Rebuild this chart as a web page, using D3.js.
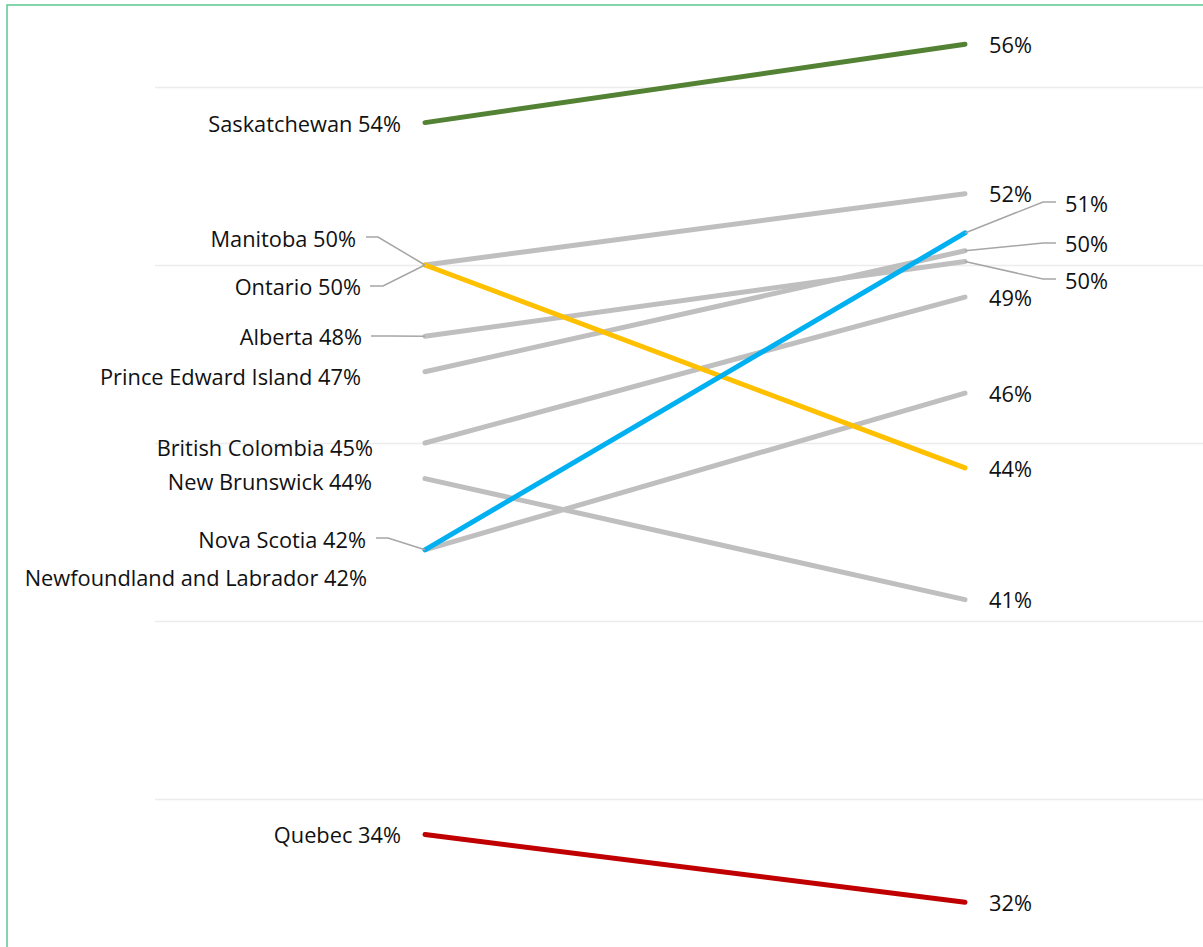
<!DOCTYPE html>
<html>
<head>
<meta charset="utf-8">
<script src="https://cdn.jsdelivr.net/npm/d3@7"></script>
<style>
  html, body { margin: 0; padding: 0; background: #fff; }
  svg { display: block; }
  text { font-family: "Open Sans", "Noto Sans", sans-serif; font-size: 21.8px; fill: #111; }
</style>
</head>
<body>
<svg id="chart" width="1203" height="947"></svg>
<script>
// ---- data ----
const provinces = ["Saskatchewan", "Manitoba", "Ontario", "Alberta", "Prince Edward Island",
  "British Colombia", "New Brunswick", "Nova Scotia", "Newfoundland and Labrador", "Quebec"];
const startValues = [54.0, 50.0, 50.0, 48.0, 47.0, 45.0, 44.0, 42.0, 42.0, 34.0];
const endValues   = [56.2, 52.0, 44.3, 50.1, 50.4, 49.1, 40.6, 50.9, 46.4, 32.1];
const lineColors  = ["#548235", "#bfbfbf", "#ffc000", "#bfbfbf", "#bfbfbf",
  "#bfbfbf", "#bfbfbf", "#00b0f0", "#bfbfbf", "#c00000"];
const gridValues = [35, 40, 45, 50, 55];

// ---- layout (label placement, pixels) ----
const leftLabelPos = {
  "Saskatchewan": {x: 401, y: 124},
  "Manitoba": {x: 356, y: 239, leader: [[366, 237], [378, 237]]},
  "Ontario": {x: 361, y: 287, leader: [[370, 286], [383, 286]]},
  "Alberta": {x: 362, y: 337, leader: [[371, 336], [390, 336]]},
  "Prince Edward Island": {x: 361, y: 377},
  "British Colombia": {x: 373, y: 448},
  "New Brunswick": {x: 372, y: 482},
  "Nova Scotia": {x: 366, y: 540, leader: [[376, 538], [388, 538]]},
  "Newfoundland and Labrador": {x: 367, y: 578},
  "Quebec": {x: 401, y: 835}
};
const rightLabelPos = {
  "Nova Scotia": {x: 1065, y: 204, leader: [[1056, 202], [1043, 202]]},
  "Prince Edward Island": {x: 1065, y: 244, leader: [[1056, 243], [1043, 243]]},
  "Alberta": {x: 1065, y: 281, leader: [[1056, 279], [1043, 279]]}
};

const svg = d3.select("#chart");
const W = 1203, H = 947;

const x = d3.scalePoint().domain(["start", "end"]).range([425, 965]);
const y = d3.scaleLinear().domain([35, 55]).range([799, 87]);

// frame
svg.append("path")
  .attr("d", `M7,${H} L7,5 L${W},5`)
  .attr("fill", "none").attr("stroke", "#5cc890").attr("stroke-width", 1.5);

// gridlines
const yAxis = d3.axisLeft(y).tickValues(gridValues).tickSize(-(W - 155)).tickFormat("");
const gAxis = svg.append("g").attr("transform", "translate(155,0)").call(yAxis);
gAxis.select(".domain").remove();
gAxis.selectAll(".tick line").attr("stroke", "#ececec").attr("stroke-width", 1.5);

const data = provinces.map((p, i) => ({name: p, a: startValues[i], b: endValues[i], color: lineColors[i]}));
const ordered = data.filter(d => d.color === "#bfbfbf").concat(data.filter(d => d.color !== "#bfbfbf"));

svg.append("g").selectAll("line").data(ordered).join("line")
  .attr("x1", x("start")).attr("x2", x("end"))
  .attr("y1", d => y(d.a)).attr("y2", d => y(d.b))
  .attr("stroke", d => d.color).attr("stroke-width", 5).attr("stroke-linecap", "round");

const fmt = v => Math.round(v) + "%";

// leader lines + labels
const leaderG = svg.append("g");
const labelG = svg.append("g");
data.forEach(d => {
  const lp = leftLabelPos[d.name];
  if (lp.leader) {
    const pts = lp.leader.concat([[x("start"), y(d.a)]]);
    leaderG.append("path").attr("d", d3.line()(pts))
      .attr("fill", "none").attr("stroke", "#a6a6a6").attr("stroke-width", 1.5);
  }
  labelG.append("text").attr("x", lp.x).attr("y", lp.y).attr("dy", "0.35em")
    .attr("text-anchor", "end").text(`${d.name} ${fmt(d.a)}`);

  const rp = rightLabelPos[d.name];
  if (rp) {
    const pts = [[x("end"), y(d.b)]].concat(rp.leader.slice().reverse());
    leaderG.append("path").attr("d", d3.line()(pts))
      .attr("fill", "none").attr("stroke", "#a6a6a6").attr("stroke-width", 1.5);
    labelG.append("text").attr("x", rp.x).attr("y", rp.y).attr("dy", "0.35em").text(fmt(d.b));
  } else {
    labelG.append("text").attr("x", x("end") + 24).attr("y", y(d.b) + 1).attr("dy", "0.35em").text(fmt(d.b));
  }
});
</script>
</body>
</html>
